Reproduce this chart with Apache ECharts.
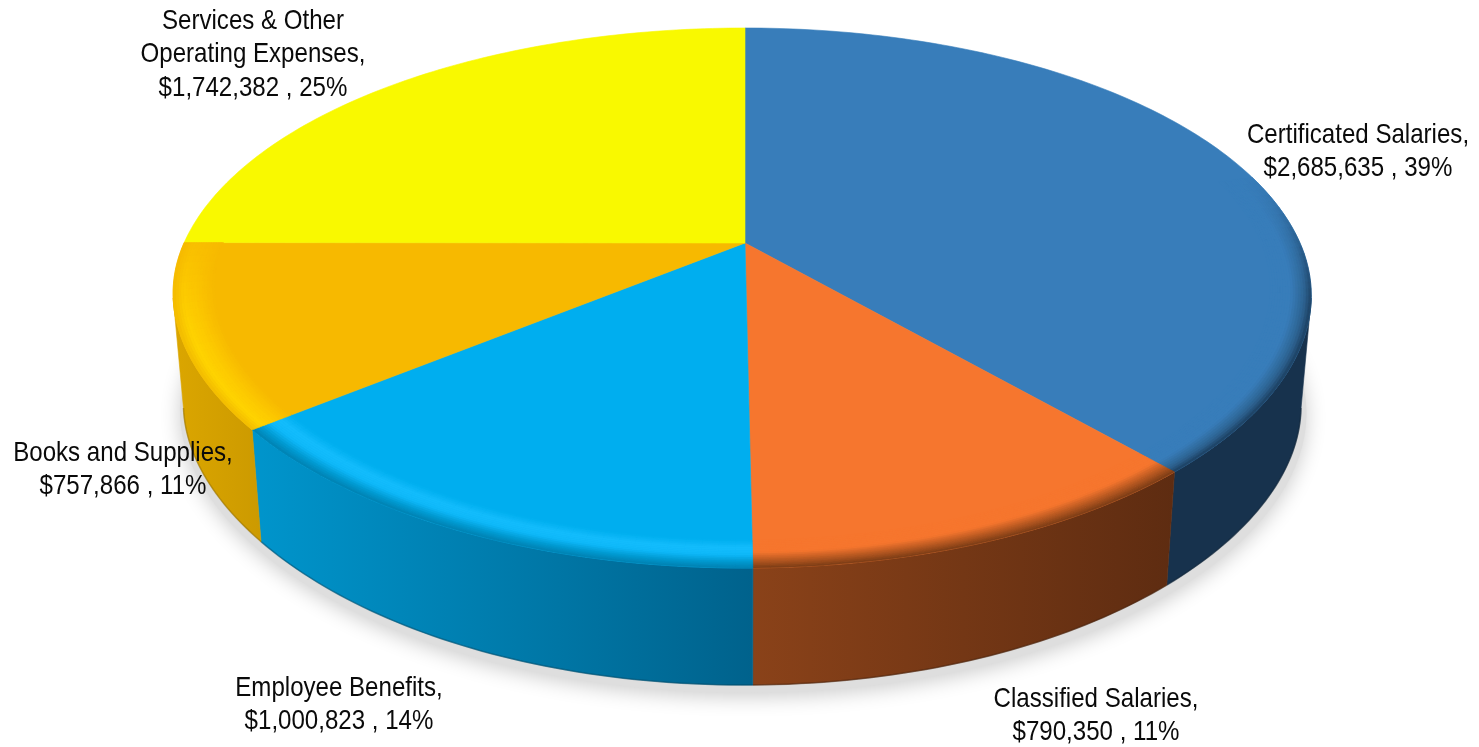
<!DOCTYPE html>
<html><head><meta charset="utf-8">
<style>html,body{margin:0;padding:0;background:#fff}#c{width:1479px;height:747px}</style>
<script src="https://cdn.jsdelivr.net/npm/echarts@6/dist/echarts.min.js"></script>
</head><body><div id="c"></div>
<script>
var categories = ['Certificated Salaries,', 'Classified Salaries,', 'Employee Benefits,', 'Books and Supplies,', 'Services & Other\nOperating Expenses,'];
var amounts = [2685635, 790350, 1000823, 757866, 1742382];
var amountLabels = ['$2,685,635', '$790,350', '$1,000,823', '$757,866', '$1,742,382'];
var percentLabels = ['39%', '11%', '14%', '11%', '25%'];

// styling, kept apart from the data
var topColors = ['#387dba', '#f6762e', '#00aeef', '#f7b900', '#f9f900'];
var wallFrom = ['#17324d', '#8a4219', '#0095cc', '#dba600', '#d0d000'];
var wallTo = ['#17324d', '#5e2c11', '#00628c', '#cc9a00', '#d0d000'];
var rimStops = [
  [[0, '#387dba'], [0.5, '#387dba'], [0.82, '#2d628f'], [1, '#1c3f60']],
  [[0, '#f6762e'], [0.45, '#f6762e'], [0.8, '#a9521f'], [1, '#7a3b16']],
  [[0, '#00aeef'], [0.3, '#14bdfd'], [0.55, '#0fb8f8'], [0.8, '#0098ce'], [1, '#0082b2']],
  [[0, '#f7b900'], [0.45, '#fdcb00'], [0.75, '#ffd400'], [1, '#f2bc00']],
  null
];
var labelAnchors = [[1358, 135], [1096, 699], [339, 688], [123, 453], [253, 21]];
var LINE = 33.5;

var CX = 745, CY = 243, AR = 555, AL = 561, B = 258.8, K = 0.2037;
var WALL_SCALE = 0.982, WALL_H = 117, WALL_DROP = 7;
var WARP_L = 7.5, WARP_R = 4;
var TANGENT = Math.asin(K) * 180 / Math.PI;
var RIM_IN = 0.93;

var total = amounts.reduce(function (a, b) { return a + b; }, 0);
var starts = [], run = 0;
amounts.forEach(function (v) { starts.push(run / total * 360); run += v; });
function angles(i) { return [starts[i], starts[i] + amounts[i] / total * 360]; }

function project(deg, r) {
  var t = deg * Math.PI / 180, u = r * Math.sin(t), v = -r * Math.cos(t), w = 1 - K * v;
  var x = CX + (u > 0 ? AR : AL) * u / w, y = CY + B * v / w;
  var d = ((deg % 360) + 360) % 360, s = Math.sin(2 * t);
  if (d > 90 && d < 180) x -= WARP_R * s * s * r;
  if (d > 180 && d < 270) x += WARP_L * s * s * r;
  return [x, y];
}
function lower(p) {
  var q = (p[0] - CX) / 570;
  return [CX + WALL_SCALE * (p[0] - CX), p[1] + WALL_H - WALL_DROP * q * q];
}
function arc(a, b, r, step) {
  var pts = [], n = Math.max(2, Math.ceil((b - a) / (step || 1)));
  for (var i = 0; i <= n; i++) pts.push(project(a + (b - a) * i / n, r));
  return pts;
}
function hex(c) { return [1, 3, 5].map(function (i) { return parseInt(c.substr(i, 2), 16); }); }
function mix(a, b, t) {
  var x = hex(a), y = hex(b), o = [0, 1, 2].map(function (i) { return Math.round(x[i] + (y[i] - x[i]) * t); });
  return 'rgb(' + o.join(',') + ')';
}
function mixHex(a, b, t) {
  var x = hex(a), y = hex(b);
  return '#' + [0, 1, 2].map(function (i) { var s = Math.round(x[i] + (y[i] - x[i]) * t).toString(16); return s.length < 2 ? '0' + s : s; }).join('');
}
function stopColor(st, t) {
  for (var i = 1; i < st.length; i++) if (t <= st[i][0]) {
    return mixHex(st[i - 1][1], st[i][1], (t - st[i - 1][0]) / (st[i][0] - st[i - 1][0]));
  }
  return st[st.length - 1][1];
}
function ramp(x, a, b) { var t = Math.min(1, Math.max(0, (x - a) / (b - a))); return t * t * (3 - 2 * t); }
function fade(deg) { return ramp(deg, 72, 108) * (1 - ramp(deg, 245, 282)); }

var rows = amounts.map(function (v, i) { return [i, v]; });

function renderShadow() {
  var pts = arc(0, 360, 1, 2).map(function (p) {
    var q = lower(p); return [CX + 1.008 * (q[0] - CX) + 1, q[1] + 8];
  });
  return { type: 'polygon', shape: { points: pts }, style: { fill: '#dedede', shadowBlur: 20, shadowColor: 'rgba(0,0,0,0.2)', shadowOffsetX: 0, shadowOffsetY: 4 } };
}
function renderWall(params, api) {
  var i = api.value(0), a = angles(i), s = Math.max(a[0], 90 + TANGENT), e = Math.min(a[1], 270 - TANGENT);
  if (e <= s) return { type: 'group', children: [] };
  var upper = arc(s, e, 1), low = upper.map(lower);
  var xs = upper.concat(low).map(function (p) { return p[0]; });
  var x0 = Math.min.apply(null, xs), x1 = Math.max.apply(null, xs);
  var g = new echarts.graphic.LinearGradient(x0, 0, x1, 0, [{ offset: 0, color: wallFrom[i] }, { offset: 1, color: wallTo[i] }], true);
  return { type: 'group', children: [
    { type: 'polygon', shape: { points: upper.concat(low.slice().reverse()) }, style: { fill: g, stroke: g, lineWidth: 0.6 } },
    { type: 'polyline', shape: { points: low }, style: { fill: null, stroke: mixHex(wallTo[i], '#000000', 0.3), lineWidth: 1.5, opacity: 0.5 } }
  ] };
}
function renderTop(params, api) {
  var i = api.value(0), a = angles(i);
  var pts = [[CX, CY]].concat(arc(a[0], a[1], 1));
  return { type: 'polygon', shape: { points: pts }, style: { fill: topColors[i], stroke: topColors[i], lineWidth: 0.6 } };
}
function renderRim(params, api) {
  var i = api.value(0), a = angles(i), st = rimStops[i], kids = [];
  if (!st) return { type: 'group', children: kids };
  var N = 16, step = 1.5;
  var n = Math.ceil((a[1] - a[0]) / step);
  for (var j = 0; j < n; j++) {
    var d0 = a[0] + (a[1] - a[0]) * j / n, d1 = a[0] + (a[1] - a[0]) * (j + 1) / n, f = fade((d0 + d1) / 2);
    if (f < 0.02) continue;
    for (var k = 0; k < N; k++) {
      var r0 = RIM_IN + (1 - RIM_IN) * k / N, r1 = RIM_IN + (1 - RIM_IN) * (k + 1) / N;
      var c = mix(topColors[i], stopColor(st, (k + 0.5) / N), f);
      kids.push({ type: 'polygon', shape: { points: [project(d0, r0), project(d1, r0), project(d1, r1), project(d0, r1)] }, style: { fill: c, stroke: c, lineWidth: 0.6 } });
    }
  }
  return { type: 'group', children: kids };
}
function renderLabel(params, api) {
  var i = api.value(0), p = labelAnchors[i];
  var text = categories[i] + '\n' + amountLabels[i] + ' , ' + percentLabels[i];
  return { type: 'text', x: p[0], y: p[1] - LINE / 2, scaleX: 0.86, style: { x: 0, y: 0, text: text, align: 'center', verticalAlign: 'top', fill: '#0a0a0a',
    font: '28px "Liberation Sans", sans-serif', lineHeight: LINE } };
}

var chart = echarts.init(document.getElementById('c'), null, { renderer: 'canvas', width: 1479, height: 747 });
function layer(z, fn, data) {
  return { type: 'custom', coordinateSystem: 'none', z: z, silent: true, animation: false, clip: false, renderItem: fn, data: data || rows, encode: { value: 1 } };
}
chart.setOption({
  animation: false,
  backgroundColor: '#ffffff',
  series: [
    layer(1, renderShadow, [[0, total]]),
    layer(2, renderWall),
    layer(3, renderTop),
    layer(4, renderRim),
    layer(5, renderLabel)
  ]
});
</script></body></html>
